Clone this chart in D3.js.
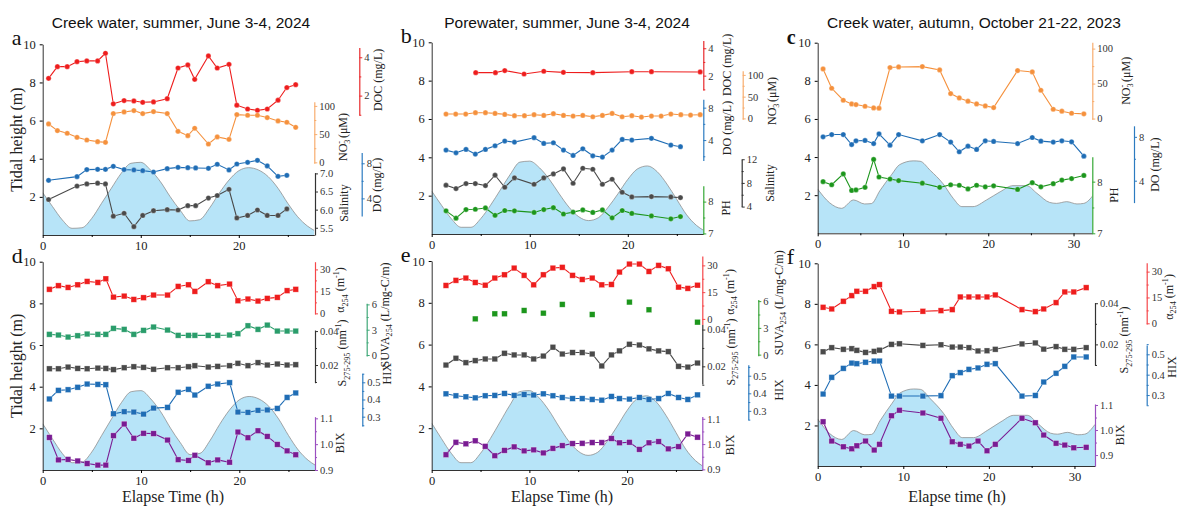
<!DOCTYPE html>
<html>
<head>
<meta charset="utf-8">
<script src="https://cdn.jsdelivr.net/npm/d3@7"></script>
<style>
body { margin: 0; background: #fff; }
svg text { font-family: "Liberation Serif", "Times New Roman", serif; }
</style>
</head>
<body>
<div id="chart"></div>
<script>
"use strict";

// ---------- tidal height (m) ----------
var tideTimeSummer = [0,1,2,3,4,5,6,7,8,9,10,11,12,13,14,15,16,17,18,19,20,21,22,23,24,25,26,27,27.7];
var tideCreekSummer = [2.22,1.49,0.79,0.35,0.38,0.87,1.66,2.45,3.23,3.76,3.81,3.41,2.80,2.01,1.31,0.74,0.80,1.40,2.19,2.88,3.37,3.53,3.41,3.06,2.45,1.66,0.96,0.47,0.24];
var tidePoreSummer = [2.24,1.5,0.8,0.35,0.35,0.8,1.5,2.3,3.1,3.75,3.8,3.45,2.85,2.1,1.4,0.9,0.7,0.85,1.4,2.1,2.85,3.4,3.55,3.25,2.6,1.8,1.0,0.45,0.2];
var tideTimeAutumn = [0,1.4,2.8,4.2,5.5,6.3,7.3,8.7,9.6,11.2,12,13.2,14.7,15.9,16.9,18.2,19.8,21.4,22.9,24.5,25.7,27.2,28,29.2,30.4,31.2,32.4];
var tideCreekAutumn = [2.32,1.6,1.31,1.75,1.54,1.56,2.24,3.1,3.6,3.8,3.78,3.3,2.6,1.83,1.4,1.4,1.75,2.18,2.5,2.5,2.1,1.62,1.57,1.66,1.54,1.57,2.05];

// ---------- a: creek water, summer ----------
var timeA = [0.6,1.5,2.5,3.5,4.5,5.6,6.4,7.2,8.3,9.3,10.2,11.3,12.7,13.8,14.8,15.5,16.9,17.8,19.0,19.8,20.9,21.9,22.9,24.0,24.9,25.8];
var docA = [2.90,3.51,3.51,3.77,3.81,3.81,4.21,1.57,1.74,1.72,1.65,1.67,1.84,3.44,3.60,2.85,4.07,3.44,3.63,1.50,1.30,1.23,1.30,1.76,2.42,2.57];
var no3A = [68.0,56.2,51.5,44.4,39.6,36.7,35.5,86.4,89.3,91.7,86.4,89.9,86.4,55.0,47.3,60.4,32.5,45.0,40.8,84.6,83.4,83.4,79.3,73.4,71.0,62.1];
var timeA2 = [0.6,3.5,4.5,5.6,6.4,7.2,8.3,9.3,10.2,11.3,12.7,13.8,14.8,15.6,16.9,17.8,19.0,19.8,20.9,21.9,22.9,24.0,24.9];
var doA = [6.06,6.48,7.28,7.31,7.31,7.66,7.28,7.24,7.16,7.01,7.39,7.54,7.50,7.47,7.43,7.89,7.24,7.92,8.11,8.34,7.70,6.51,6.63];
var salA = [6.28,6.65,6.71,6.73,6.71,5.82,5.90,5.53,5.84,5.97,6.00,5.99,6.11,6.11,6.32,6.39,6.56,5.77,5.84,5.99,5.84,5.84,6.02];

// ---------- b: porewater, summer ----------
var timeB = [1.46,2.45,3.47,4.46,5.48,6.46,7.45,8.44,9.46,10.44,11.43,12.41,13.44,14.42,15.41,16.43,17.41,18.40,19.42,20.41,21.39,22.41,23.40,24.39,25.41,26.40,27.38];
var no3B = [10.0,10.0,10.0,13.1,13.1,11.5,9.2,6.2,6.2,8.5,6.9,10.8,6.9,5.4,6.9,3.8,6.9,11.5,3.8,6.2,3.1,5.4,5.4,10.0,8.5,7.7,8.5];
var timeDocB = [4.49,6.50,7.45,9.42,11.43,13.43,16.43,20.41,22.41,27.38];
var docB = [2.22,2.22,2.37,2.12,2.32,2.24,2.22,2.29,2.29,2.27];
var timeB2 = [1.46,2.48,3.5,4.45,5.48,6.46,7.45,8.44,10.44,11.43,12.41,13.44,14.42,15.41,16.43,17.41,18.4,19.43,20.41,22.41,24.39,25.37];
var doB = [2.76,2.43,2.85,2.27,2.85,3.30,3.88,3.75,4.29,3.59,3.67,2.76,2.10,2.93,2.06,1.90,2.76,4.08,4.00,4.21,3.38,3.18];
var salB = [7.61,7.04,7.89,7.89,7.55,9.30,7.27,8.85,7.77,8.85,9.52,10.37,7.94,10.48,10.31,7.77,8.62,6.42,5.63,5.69,5.63,5.52];
var phB = [7.71,7.48,7.75,7.76,7.80,7.57,7.72,7.71,7.66,7.75,7.81,7.61,7.67,7.74,7.66,7.74,7.49,7.72,7.63,7.55,7.46,7.53];

// ---------- c: creek water, autumn ----------
var timeC = [0.63,1.64,3.0,3.98,4.49,5.55,6.56,7.19,8.48,9.49,12.27,14.3,15.59,16.6,17.62,18.63,19.65,20.63,23.44,25.16,26.17,27.62,28.63,29.77,31.21];
var no3C = [70.9,43.3,26.2,20.9,20.0,17.6,15.2,14.8,72.9,73.8,74.3,69.5,35.7,29.5,24.8,20.9,18.1,15.7,68.6,66.7,40.5,13.3,10.5,7.6,6.7];
var doC = [8.0,8.21,8.21,7.30,7.64,7.67,7.39,8.27,7.24,8.21,7.64,8.21,7.52,6.64,7.15,6.85,7.64,7.58,7.39,7.94,7.61,7.52,7.64,7.55,6.24];
var phC = [8.0,7.94,8.15,7.83,7.84,7.89,8.43,8.09,8.05,8.02,7.97,7.89,7.94,7.93,7.86,7.93,7.90,7.92,7.85,7.98,7.90,7.96,8.03,8.06,8.12];

// ---------- d: creek water, summer (optical) ----------
var timeD = [0.68,1.6,2.58,3.56,4.52,5.61,6.42,7.2,8.29,9.27,10.26,11.28,12.7,13.78,14.83,15.48,16.84,17.8,19.01,19.86,20.88,21.9,22.85,23.87,24.86,25.74];
var a254D = [16.4,18.9,17.7,19.5,21.8,21.1,23.6,11.1,11.8,9.5,10.7,12.5,12.5,18.4,19.5,15.0,21.6,18.9,20.0,8.6,9.8,8.4,10.2,10.9,15.5,16.4];
var suvaD = [2.45,2.37,2.13,2.29,2.49,2.45,2.45,3.16,3.04,2.45,2.92,3.32,2.96,2.33,2.33,2.33,2.33,2.33,2.37,2.53,3.47,3.04,3.55,2.84,2.84,2.84];
var sD = [0.0178,0.0178,0.0188,0.0180,0.0178,0.0182,0.0180,0.0173,0.0184,0.0190,0.0186,0.0175,0.0184,0.0184,0.0190,0.0196,0.0188,0.0192,0.0196,0.0210,0.0196,0.0214,0.0200,0.0206,0.0200,0.0202];
var hixD = [0.403,0.453,0.457,0.471,0.490,0.488,0.486,0.317,0.329,0.327,0.315,0.350,0.354,0.442,0.459,0.426,0.477,0.490,0.498,0.327,0.325,0.337,0.339,0.348,0.412,0.438];
var bixD = [1.026,0.939,0.941,0.935,0.925,0.919,0.919,1.033,1.078,1.023,1.042,1.041,1.016,0.940,0.937,0.957,0.928,0.939,0.930,1.047,1.025,1.052,1.030,0.999,0.974,0.959];

// ---------- e: porewater, summer (optical) ----------
var timeE = [1.46,2.48,3.5,4.46,5.48,6.46,7.45,8.44,9.46,10.44,11.43,12.41,13.37,14.42,15.41,16.43,17.41,18.4,19.22,20.24,21.26,22.24,23.23,24.22,25.27,26.22,27.21];
var a254E = [18.75,21.6,22.9,20.4,18.9,22.9,24.75,28.5,24.4,19.1,24.75,28.5,28.9,24.4,22.1,22.9,19.1,19.3,26.25,30.75,30.75,26.6,30.0,28.1,17.8,17.1,18.9];
var timeSuvaE = [4.46,6.46,7.45,9.46,11.43,13.37,16.43,20.24,22.24,27.21];
var suvaE = [4.01,4.58,4.58,4.95,4.65,5.63,4.50,5.89,5.03,3.64];
var sE = [0.0207,0.0244,0.0220,0.0231,0.0240,0.0240,0.0271,0.0262,0.0262,0.0240,0.0256,0.0304,0.0267,0.0275,0.0275,0.0267,0.0202,0.0262,0.0284,0.0320,0.0316,0.0295,0.0284,0.0280,0.0200,0.0196,0.0218];
var hixE = [0.397,0.386,0.380,0.374,0.386,0.388,0.399,0.388,0.393,0.390,0.397,0.386,0.376,0.370,0.370,0.365,0.361,0.382,0.370,0.367,0.376,0.365,0.370,0.399,0.376,0.365,0.391];
var bixE = [0.958,1.007,1.001,1.013,0.991,0.954,0.975,0.989,0.973,0.977,0.965,0.983,0.994,1.002,1.003,1.006,1.006,1.022,1.005,1.007,0.979,1.005,1.010,0.981,0.990,1.040,1.027];

// ---------- f: creek water, autumn (optical) ----------
var timeF = [0.63,1.64,3.0,3.98,4.57,5.59,6.6,7.22,8.62,9.55,12.29,14.4,15.72,16.66,17.67,18.73,19.78,20.75,23.87,25.43,26.41,27.85,28.87,29.92,31.37];
var a254F = [9.29,8.32,12.77,16.06,18.58,18.58,21.29,22.45,6.97,6.58,6.97,7.35,7.94,15.29,15.29,15.29,15.29,16.45,7.94,6.77,8.32,12.0,18.19,18.19,20.71];
var sF = [0.0164,0.0184,0.0176,0.0179,0.0171,0.0161,0.0166,0.0172,0.0200,0.0203,0.0195,0.0198,0.0187,0.0187,0.0184,0.0168,0.0169,0.0176,0.0202,0.0207,0.0177,0.0189,0.0176,0.0176,0.0184];
var hixF = [0.305,0.387,0.431,0.457,0.454,0.461,0.467,0.467,0.295,0.295,0.295,0.297,0.395,0.410,0.426,0.433,0.451,0.454,0.295,0.298,0.364,0.407,0.441,0.487,0.487];
var bixF = [1.033,0.956,0.933,0.925,0.937,0.956,0.920,0.943,1.057,1.079,1.068,1.047,0.953,0.943,0.936,0.956,0.917,0.943,1.047,1.029,0.980,0.947,0.940,0.929,0.931];

// colours
var RED = "#ee1d1d", ORANGE = "#f5913d", BLUE = "#1f6db5", GREY = "#4a4a4a",
    GREEN = "#1c961c", TEAL = "#2a9d6b", PURPLE = "#7a1c93";

// axis titles, as [text, "sub"|"sup"|"", dx]
var L_DOC = [["DOC (mg/L)"]];
var L_DO = [["DO (mg/L)"]];
var L_NO3 = [["NO"], ["3", "sub"], ["-", "sup", -4.2], [" (\u03bcM)"]];
var L_SAL = [["Salinity"]];
var L_PH = [["PH"]];
var L_A254 = [["\u03b1"], ["254", "sub"], [" (m"], ["-1", "sup"], [")"]];
var L_SUVA = [["SUVA"], ["254", "sub"], [" (L/mg-C/m)"]];
var L_S = [["S"], ["275-295", "sub"], [" (nm"], ["-1", "sup"], [")"]];
var L_HIX = [["HIX"]];
var L_BIX = [["BIX"]];

var f1 = d3.format(".1f");

var panels = [
  { letter: "a", x0: 42.7, x1: 314.3, tMax: 27.7, y0: 235, y10: 44.3, shape: "circle",
    tideT: tideTimeSummer, tideH: tideCreekSummer, xTicks: [0, 10, 20],
    axes: [
      { dx: 45, color: "#e8282b", ref: [4, 9.32, 2, 7.31], ext: [9.83, 6.29], major: [2, 4], minor: [1, 3],
        label: L_DOC, ldx: 18, lh: 8.13, series: [{ t: timeA, v: docA, c: RED }] },
      { dx: 0, color: "#f8ad6e", ref: [100, 6.77, 0, 3.81], ext: [6.99, 3.76], major: [0, 50, 100], minor: [25, 75],
        label: L_NO3, ldx: 28, lh: 5.14, series: [{ t: timeA, v: no3A, c: ORANGE }] },
      { dx: 0.7, color: "#333", ref: [7, 3.23, 5.5, 0.38], ext: [3.27, 0], major: [5.5, 6, 6.5, 7], minor: [], fmt: f1,
        label: L_SAL, ldx: 29, lh: 1.68, series: [{ t: timeA2, v: salA, c: GREY }] },
      { dx: 47.4, color: "#2c7bc0", ref: [8, 3.76, 4, 1.92], ext: [4.32, 1.0], major: [4, 8], minor: [6],
        label: L_DO, ldx: 15, lh: 2.62, series: [{ t: timeA2, v: doA, c: BLUE }] }
    ] },
  { letter: "b", x0: 431.7, x1: 703.3, tMax: 27.7, y0: 234, y10: 42.3, shape: "circle",
    tideT: tideTimeSummer, tideH: tidePoreSummer, xTicks: [0, 10, 20],
    axes: [
      { dx: 0, color: "#e8282b", ref: [4, 9.69, 2, 8.26], ext: [10.09, 7.51], major: [2, 4], minor: [1, 3],
        label: L_DOC, ldx: 23, lh: 8.82, series: [{ t: timeDocB, v: docB, c: RED }] },
      { dx: 39.4, color: "#f8ad6e", ref: [100, 8.30, 0, 6.03], ext: [8.52, 5.98], major: [0, 50, 100], minor: [25, 75],
        label: L_NO3, ldx: 29, lh: 6.94, series: [{ t: timeB, v: no3B, c: ORANGE }] },
      { dx: 0, color: "#2c7bc0", ref: [8, 6.59, 4, 4.90], ext: [7.03, 3.83], major: [4, 8], minor: [2, 6],
        label: L_DO, ldx: 23, lh: 5.53, series: [{ t: timeB2, v: doB, c: BLUE }] },
      { dx: 38.4, color: "#333", ref: [12, 3.90, 4, 1.43], ext: [3.90, 1.43], major: [4, 8, 12], minor: [6, 10],
        label: L_SAL, ldx: 28, lh: 2.66, series: [{ t: timeB2, v: salB, c: GREY }] },
      { dx: 0, color: "#35a835", ref: [8, 1.69, 7, 0.03], ext: [2.52, 0], major: [7, 8], minor: [7.5],
        label: L_PH, ldx: 22, lh: 1.36, series: [{ t: timeB2, v: phB, c: GREEN }] }
    ] },
  { letter: "c", bold: true, x0: 817.7, x1: 1092.3, tMax: 32.2, y0: 233.3, y10: 42.7, shape: "circle",
    tideT: tideTimeAutumn, tideH: tideCreekAutumn, xTicks: [0, 10, 20, 30],
    axes: [
      { dx: 0, color: "#f8ad6e", ref: [100, 9.69, 0, 6.02], ext: [10.03, 5.99], major: [0, 50, 100], minor: [25, 75],
        label: L_NO3, ldx: 33, lh: 8.0, series: [{ t: timeC, v: no3C, c: ORANGE }] },
      { dx: 41.7, color: "#2c7bc0", ref: [8, 5.06, 4, 2.76], ext: [5.64, 1.61], major: [4, 8], minor: [6],
        label: L_DO, ldx: 21, lh: 3.6, series: [{ t: timeC, v: doC, c: BLUE }] },
      { dx: 0, color: "#35a835", ref: [8, 2.71, 7, 0], ext: [4.01, 0], major: [7, 8], minor: [7.5],
        label: L_PH, ldx: 21, lh: 2.0, series: [{ t: timeC, v: phC, c: GREEN }] }
    ] },
  { letter: "d", x0: 42.7, x1: 315, tMax: 27.7, y0: 470, y10: 261.7, shape: "square",
    tideT: tideTimeSummer, tideH: tideCreekSummer, xTicks: [0, 10, 20], xLabel: "Elapse Time (h)", xlx: 173,
    axes: [
      { dx: 0, color: "#f5474a", ref: [30, 9.63, 0, 7.52], ext: [10, 7.49], major: [0, 15, 30], minor: [7.5, 22.5],
        label: L_A254, ldx: 25, lh: 8.64, series: [{ t: timeD, v: a254D, c: RED }] },
      { dx: 51.7, color: "#3fa878", ref: [6, 7.95, 0, 5.52], ext: [8.0, 5.47], major: [0, 3, 6], minor: [1.5, 4.5],
        label: L_SUVA, ldx: 18, lh: 7.44, series: [{ t: timeD, v: suvaD, c: TEAL }] },
      { dx: 0, color: "#333", ref: [0.04, 6.67, 0.02, 5.04], ext: [6.72, 4.19], major: [0.02, 0.04], minor: [0.01, 0.03],
        label: L_S, ldx: 27, lh: 5.62, series: [{ t: timeD, v: sD, c: GREY }] },
      { dx: 47.3, color: "#2c7bc0", ref: [0.5, 4.21, 0.3, 2.56], ext: [4.64, 2.11], major: [0.3, 0.4, 0.5], minor: [0.25, 0.35, 0.45, 0.55], fmt: f1,
        label: L_HIX, ldx: 24, lh: 4.62, series: [{ t: timeD, v: hixD, c: BLUE }] },
      { dx: 0, color: "#9b4fc0", ref: [1.1, 2.48, 0.9, 0], ext: [2.56, 0], major: [0.9, 1.0, 1.1], minor: [0.95, 1.05], fmt: f1,
        label: L_BIX, ldx: 25, lh: 1.3, series: [{ t: timeD, v: bixD, c: PURPLE }] }
    ] },
  { letter: "e", x0: 431.7, x1: 702.3, tMax: 27.7, y0: 470, y10: 261, shape: "square",
    tideT: tideTimeSummer, tideH: tidePoreSummer, xTicks: [0, 10, 20], xLabel: "Elapse Time (h)", xlx: 562,
    axes: [
      { dx: 0, color: "#f5474a", ref: [30, 9.79, 0, 7.23], ext: [10.24, 6.96], major: [0, 15, 30], minor: [7.5, 22.5],
        label: L_A254, ldx: 27, lh: 8.52, series: [{ t: timeE, v: a254E, c: RED }] },
      { dx: 56, color: "#3aa53a", ref: [6, 8.08, 0, 5.52], ext: [8.16, 5.47], major: [0, 3, 6], minor: [1.5, 4.5],
        label: L_SUVA, ldx: 20, lh: 8.0, series: [{ t: timeSuvaE, v: suvaE, c: GREEN, noLine: true }] },
      { dx: 0, color: "#333", ref: [0.04, 6.72, 0.02, 4.96], ext: [6.96, 4.11], major: [0.02, 0.04], minor: [0.01, 0.03],
        label: L_S, ldx: 28, lh: 5.65, series: [{ t: timeE, v: sE, c: GREY }] },
      { dx: 46, color: "#2c7bc0", ref: [0.5, 4.51, 0.3, 2.83], ext: [5.04, 2.4], major: [0.3, 0.4, 0.5], minor: [0.25, 0.35, 0.45, 0.55], fmt: f1,
        label: L_HIX, ldx: 30, lh: 3.83, series: [{ t: timeE, v: hixE, c: BLUE }] },
      { dx: 0, color: "#9b4fc0", ref: [1.1, 2.45, 0.9, 0.03], ext: [2.56, 0], major: [0.9, 1.0, 1.1], minor: [0.95, 1.05], fmt: f1,
        label: L_BIX, ldx: 27, lh: 1.2, series: [{ t: timeE, v: bixE, c: PURPLE }] }
    ] },
  { letter: "f", x0: 817.7, x1: 1095, tMax: 32.4, y0: 466, y10: 263.3, shape: "square",
    tideT: tideTimeAutumn, tideH: tideCreekAutumn, xTicks: [0, 10, 20, 30], xLabel: "Elapse time (h)", xlx: 957,
    axes: [
      { dx: 51.7, color: "#f5474a", ref: [30, 9.59, 0, 7.04], ext: [10.03, 7.01], major: [0, 15, 30], minor: [7.5, 22.5],
        label: L_A254, ldx: 22, lh: 8.34, series: [{ t: timeF, v: a254F, c: RED }] },
      { dx: 0, color: "#333", ref: [0.04, 8.03, 0.02, 6.0], ext: [8.06, 4.98], major: [0.02, 0.04], minor: [0.01, 0.03],
        label: L_S, ldx: 29, lh: 6.22, series: [{ t: timeF, v: sF, c: GREY }] },
      { dx: 51.7, color: "#2c7bc0", ref: [0.5, 5.51, 0.3, 3.5], ext: [5.97, 3.01], major: [0.3, 0.4, 0.5], minor: [0.25, 0.35, 0.45, 0.55], fmt: f1,
        label: L_HIX, ldx: 25, lh: 4.88, series: [{ t: timeF, v: hixF, c: BLUE }] },
      { dx: 0, color: "#9b4fc0", ref: [1.1, 3.01, 0.9, 0.54], ext: [3.06, 0], major: [0.9, 1.0, 1.1], minor: [0.95, 1.05], fmt: f1,
        label: L_BIX, ldx: 25, lh: 1.53, series: [{ t: timeF, v: bixF, c: PURPLE }] }
    ] }
];

var titles = [
  { text: "Creek water, summer, June 3-4, 2024", x: 181 },
  { text: "Porewater, summer, June 3-4, 2024", x: 567 },
  { text: "Creek water, autumn, October 21-22, 2023", x: 974 }
];

var svg = d3.select("#chart").append("svg")
  .attr("width", 1182)
  .attr("height", 506);

// rich text with sub/superscripts
function addRich(sel, parts) {
  var off = 0;
  parts.forEach(function(p) {
    var target = p[1] === "sub" ? 3.5 : (p[1] === "sup" ? -5 : 0);
    var ts = sel.append("tspan").text(p[0]);
    if (target - off !== 0) ts.attr("dy", target - off);
    if (p[1]) ts.attr("font-size", "0.68em");
    if (p[2]) ts.attr("dx", p[2]);
    off = target;
  });
}

titles.forEach(function(t) {
  svg.append("text")
    .attr("x", t.x)
    .attr("y", 28)
    .attr("text-anchor", "middle")
    .style("font-family", "'Liberation Sans', Arial, sans-serif")
    .style("font-size", "15.5px")
    .attr("fill", "#111")
    .text(t.text);
});

function drawPanel(p, idx) {
  var x = d3.scaleLinear().domain([0, p.tMax]).range([p.x0, p.x1]);
  var y = d3.scaleLinear().domain([0, 10]).range([p.y0, p.y10]);
  var g = svg.append("g");

  // clip to plot box
  var clipId = "clip" + idx;
  svg.append("clipPath").attr("id", clipId)
    .append("rect")
    .attr("x", p.x0).attr("y", p.y10 - 5)
    .attr("width", p.x1 - p.x0).attr("height", p.y0 - p.y10 + 5);

  // tide
  var tide = d3.zip(p.tideT, p.tideH);
  var area = d3.area()
    .x(function(d) { return x(d[0]); })
    .y0(y(0))
    .y1(function(d) { return y(d[1]); })
    .curve(d3.curveMonotoneX);
  var tideLine = d3.line()
    .x(function(d) { return x(d[0]); })
    .y(function(d) { return y(d[1]); })
    .curve(d3.curveMonotoneX);
  g.append("path").datum(tide)
    .attr("clip-path", "url(#" + clipId + ")")
    .attr("d", area)
    .attr("fill", "#b7e4f8");
  g.append("path").datum(tide)
    .attr("clip-path", "url(#" + clipId + ")")
    .attr("d", tideLine)
    .attr("fill", "none")
    .attr("stroke", "#8f8f8f")
    .attr("stroke-width", 0.8);

  // left axis
  var ly = g.append("g")
    .attr("transform", "translate(" + p.x0 + ",0)")
    .call(d3.axisLeft(y).tickValues([2, 4, 6, 8, 10]).tickSize(3).tickPadding(4).tickSizeOuter(0));
  ly.selectAll("text").style("font-size", "12.5px").attr("fill", "#222");
  ly.select(".domain").attr("stroke", "#333");

  // bottom axis
  var bx = g.append("g")
    .attr("transform", "translate(0," + p.y0 + ")")
    .call(d3.axisBottom(x).tickValues(p.xTicks).tickSize(3).tickPadding(3).tickSizeOuter(0));
  bx.selectAll("text").style("font-size", "12.5px").attr("fill", "#222");
  bx.select(".domain").attr("stroke", "#333");
  g.append("g")
    .attr("transform", "translate(0," + p.y0 + ")")
    .call(d3.axisBottom(x).tickValues([5, 15, 25]).tickSize(2).tickFormat(""))
    .select(".domain").remove();

  // panel letter
  g.append("text")
    .attr("x", p.x0 - 31)
    .attr("y", p.y10 + 1)
    .style("font-size", p.bold ? "20px" : "22px")
    .style("font-weight", p.bold ? "bold" : "normal")
    .attr("fill", "#111")
    .text(p.letter);

  if (idx === 0 || idx === 3) {
    g.append("text")
      .attr("transform", "translate(22," + y(5) + ") rotate(-90)")
      .attr("text-anchor", "middle")
      .style("font-size", "16px")
      .attr("fill", "#222")
      .text("Tidal height (m)");
  }
  if (p.xLabel) {
    g.append("text")
      .attr("x", p.xlx)
      .attr("y", 502)
      .attr("text-anchor", "middle")
      .style("font-size", "16px")
      .attr("fill", "#222")
      .text(p.xLabel);
  }

  // right axes + series
  p.axes.forEach(function(a) {
    var ax = p.x1 + a.dx;
    var s = d3.scaleLinear().domain([a.ref[0], a.ref[2]]).range([y(a.ref[1]), y(a.ref[3])]);
    var yTop = y(a.ext[0]), yBot = y(a.ext[1]);
    var sAxis = s.copy().domain([s.invert(yBot), s.invert(yTop)]).range([yBot, yTop]);

    var axisG = g.append("g")
      .attr("transform", "translate(" + ax + ",0)")
      .attr("color", a.color)
      .call(d3.axisRight(sAxis).tickValues(a.major).tickSize(3).tickPadding(2).tickSizeOuter(0)
        .tickFormat(a.fmt || function(v) { return String(v); }));
    axisG.selectAll("text").style("font-size", "10.5px").attr("fill", "#333");
    axisG.select(".domain").attr("stroke-width", 1.2);
    if (a.minor.length) {
      g.append("g")
        .attr("transform", "translate(" + ax + ",0)")
        .attr("color", a.color)
        .call(d3.axisRight(sAxis).tickValues(a.minor).tickSize(2).tickFormat(""))
        .select(".domain").remove();
    }

    var lab = g.append("text")
      .attr("transform", "translate(" + (ax + a.ldx + 4.2) + "," + y(a.lh) + ") rotate(-90)")
      .attr("text-anchor", "middle")
      .style("font-size", "12px")
      .attr("fill", "#222");
    addRich(lab, a.label);

    a.series.forEach(function(sr) {
      var pts = d3.zip(sr.t, sr.v);
      if (!sr.noLine) {
        g.append("path").datum(pts)
          .attr("d", d3.line()
            .x(function(d) { return x(d[0]); })
            .y(function(d) { return s(d[1]); }))
          .attr("fill", "none")
          .attr("stroke", sr.c)
          .attr("stroke-width", 1.1);
      }
      if (p.shape === "circle") {
        g.selectAll(null).data(pts).enter().append("circle")
          .attr("cx", function(d) { return x(d[0]); })
          .attr("cy", function(d) { return s(d[1]); })
          .attr("r", 2.6)
          .attr("fill", sr.c)
          .attr("stroke", "#fff")
          .attr("stroke-opacity", 0.5)
          .attr("stroke-width", 0.6);
      } else {
        g.selectAll(null).data(pts).enter().append("rect")
          .attr("x", function(d) { return x(d[0]) - 2.8; })
          .attr("y", function(d) { return s(d[1]) - 2.8; })
          .attr("width", 5.6)
          .attr("height", 5.6)
          .attr("fill", sr.c)
          .attr("stroke", "#fff")
          .attr("stroke-opacity", 0.5)
          .attr("stroke-width", 0.6);
      }
    });
  });
}

panels.forEach(drawPanel);
</script>
</body>
</html>
